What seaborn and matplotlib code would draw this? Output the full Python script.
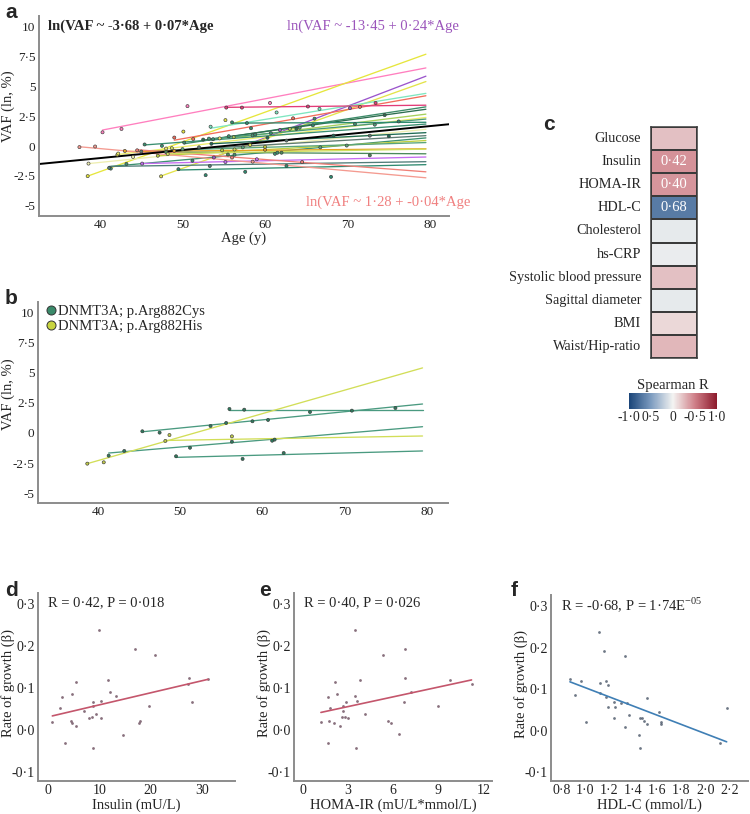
import numpy as np
import pandas as pd
import matplotlib
matplotlib.use("Agg")
import matplotlib.pyplot as plt
import seaborn as sns
from matplotlib.colors import LinearSegmentedColormap
from matplotlib.lines import Line2D

W, H = 750, 814
sns.set_theme(style="white")
plt.rcParams["font.family"] = ["Liberation Serif", "DejaVu Serif"]
plt.rcParams["mathtext.fontset"] = "custom"
plt.rcParams["mathtext.rm"] = "Liberation Serif"
plt.rcParams["axes.unicode_minus"] = False

# ---------------- DATA ----------------
END_AGE = 79.5
POP_INTERCEPT = -3.68
POP_SLOPE = 0.067

a_colors = ["#ff7fbf", "#e6e63c", "#9b55cc", "#e3e34a", "#7fe6c0", "#f26d5b", "#e23c78",
            "#3c8a68", "#2d6e4f", "#a6d05a", "#eeee6a", "#4b9a78", "#2e8b6e", "#3a8f70",
            "#eeeeb0", "#1f6b54", "#5f7a72", "#3d9070", "#bfd040", "#5aa47c", "#e8a020",
            "#4b8a5a", "#c46cf0", "#507d78", "#2f8a70", "#f08078", "#f49a90", "#d0e060"]
a_start_vaf = [1.35, -2.51, -0.95, -2.5, 1.5, 0.5, 3.25, 0.2, 0.5, 0.7, -0.7, 0.6, 1.93, 0.1,
               -1.46, 0.2, -0.5, -1.7, -0.8, -0.3, -0.45, -0.5, -1.46, -1.7, -2.0, -0.3, -0.05, -0.62]
a_end_vaf = [6.55, 7.7, 5.86, 5.41, 4.42, 4.22, 3.43, 3.29, 3.09, 2.68, 2.4, 2.27, 2.0, 1.85,
             1.41, 1.13, 0.88, 0.69, 0.47, 0.3, -0.22, -0.64, -0.91, -1.3, -1.55, -2.15, -2.65, -0.25]
a_ages = [[40.3, 42.6, 50.6, 60.6], [38.5, 42.1, 50.1, 55.2], [53.8, 61.8, 70.3], [47.4, 58.2],
          [53.4, 61.4, 66.6], [49.0, 51.3, 63.4, 71.5], [55.3, 57.2, 65.2, 73.4], [50.2, 58.3, 66.0],
          [52.5, 63.8, 74.5], [56.2, 63.0], [42.2, 48.0, 54.5], [53.2, 58.5, 64.2, 73.3],
          [56.0, 57.8, 65.8, 76.2], [45.4, 47.5, 53.7, 55.6, 58.8, 60.7, 70.9], [38.6, 44.0],
          [53.5, 60.3, 68.3, 75.0], [45.0, 52.0, 62.6, 72.7], [41.3, 43.2, 51.2, 56.3, 61.2, 61.5],
          [47.0, 54.8, 60.0], [50.0, 57.3, 66.7, 69.9], [43.0, 49.0, 60.0], [48.0, 55.5, 62.0, 72.7],
          [45.1, 55.2, 59.0], [41.1, 53.3], [49.5, 52.8, 57.6, 62.6, 68.0], [44.5, 56.0, 64.5],
          [37.5, 39.4, 58.5], [48.2, 48.7, 56.3]]
a_vafs = [[1.16, 1.44, 3.35, 3.62], [-2.51, -0.72, 1.22, 2.18], [-0.95, 1.35, 3.18], [-2.53, 0.1],
          [1.63, 2.82, 3.12], [0.72, 0.60, 2.33, 3.29], [3.23, 3.23, 3.32, 3.62], [0.30, 1.50, 2.30],
          [0.55, 1.45, 2.60], [0.75, 1.45], [-0.62, -0.20, 0.65], [0.63, 0.90, 1.55, 1.80],
          [1.99, 1.93, 1.74, 2.07], [0.14, 0.03, 0.58, 0.83, 0.97, 1.08, 1.85], [-1.46, -0.90],
          [0.20, 0.70, 0.88, 0.83], [-0.45, -0.10, 0.47, 0.88], [-1.88, -1.49, -1.22, -0.72, -0.64, -0.55],
          [-0.80, -0.35, -0.05], [-0.25, -0.10, -0.10, 0.05], [-0.40, -0.40, -0.30], [-0.50, -0.70, -0.55, -0.77],
          [-1.46, -1.33, -1.10], [-1.82, -1.66], [-1.93, -2.43, -2.15, -1.66, -2.57], [-0.35, -0.95, -1.33],
          [-0.08, -0.03, -1.30], [-0.66, -0.17, -0.28]]

b_mutation = ["DNMT3A; p.Arg882Cys"] * 4 + ["DNMT3A; p.Arg882His"] * 2
b_start_vaf = [1.93, 0.10, -1.66, -2.02, -2.54, -0.62]
b_end_vaf = [1.93, 2.40, 0.52, -1.49, 5.39, -0.25]
b_ages = [[56.0, 57.8, 65.8, 70.9], [45.4, 47.5, 53.7, 55.6, 58.8, 60.7, 76.2],
          [41.3, 43.2, 51.2, 56.3, 61.2, 61.5], [49.5, 57.6, 62.6], [38.7, 40.7], [48.2, 48.7, 56.3]]
b_vafs = [[1.99, 1.93, 1.74, 1.85], [0.14, 0.03, 0.58, 0.83, 0.97, 1.08, 2.07],
          [-1.88, -1.49, -1.22, -0.72, -0.64, -0.55], [-1.93, -2.15, -1.66], [-2.54, -2.43], [-0.66, -0.17, -0.28]]
b_line_colors = {"DNMT3A; p.Arg882Cys": "#4a9a80", "DNMT3A; p.Arg882His": "#d2de58"}
b_point_colors = {"DNMT3A; p.Arg882Cys": "#2e7a5e", "DNMT3A; p.Arg882His": "#c2cc48"}

c_labels = ["Glucose", "Insulin", "HOMA-IR", "HDL-C", "Cholesterol", "hs-CRP",
            "Systolic blood pressure", "Sagittal diameter", "BMI", "Waist/Hip-ratio"]
c_values = [0.22, 0.42, 0.40, -0.68, -0.06, -0.04, 0.22, -0.06, 0.12, 0.26]
c_text = ["", "0·42", "0·40", "0·68", "", "", "", "", "", ""]
c_cbar_ticks = [-1, -0.5, 0, 0.5, 1]
c_cbar_labels = ["-1·0", "0·5", "0", "-0·5", "1·0"]

d_insulin = [0.8, 2.3, 2.7, 3.3, 4.4, 4.6, 4.7, 5.4, 5.5, 6.9, 8.0, 8.6, 8.7, 8.7, 8.7, 9.3,
             10.0, 10.3, 10.4, 11.6, 12.0, 13.2, 14.7, 16.9, 17.8, 18.0, 19.7, 20.9, 27.3, 27.6, 28.0, 31.2]
d_beta = [0.020, 0.054, 0.079, -0.030, 0.023, 0.017, 0.087, 0.114, 0.009, 0.046, 0.030, 0.031, 0.068,
          0.057, -0.042, 0.039, 0.238, 0.069, 0.030, 0.119, 0.090, 0.082, -0.011, 0.193, 0.018, 0.021,
          0.058, 0.180, 0.111, 0.125, 0.067, 0.121]
e_homa = [1.19, 1.64, 1.64, 1.75, 1.77, 2.06, 2.10, 2.26, 2.43, 2.60, 2.65, 2.68, 2.77, 2.83, 2.96, 3.43,
          3.43, 3.54, 3.60, 3.80, 4.10, 5.33, 5.62, 5.84, 6.35, 6.70, 6.77, 6.80, 7.19, 9.00, 9.80, 11.20]
e_beta = [0.020, 0.079, -0.030, 0.023, 0.054, 0.017, 0.114, 0.087, 0.009, 0.031, 0.046, 0.057, 0.031,
          0.068, 0.030, 0.082, 0.238, -0.042, 0.069, 0.119, 0.039, 0.180, 0.021, 0.017, -0.010, 0.067,
          0.125, 0.193, 0.090, 0.058, 0.120, 0.111]
f_hdl = [0.872, 0.914, 0.961, 1.008, 1.110, 1.119, 1.119, 1.155, 1.174, 1.174, 1.188, 1.185, 1.235, 1.241,
         1.249, 1.296, 1.332, 1.332, 1.346, 1.366, 1.446, 1.452, 1.454, 1.471, 1.490, 1.513, 1.518, 1.618,
         1.629, 1.632, 2.122, 2.178]
f_beta = [0.125, 0.087, 0.120, 0.020, 0.238, 0.114, 0.090, 0.193, 0.082, 0.121, 0.111, 0.058, 0.069, 0.031,
          0.057, 0.068, 0.180, 0.009, 0.067, 0.039, -0.010, 0.031, -0.042, 0.030, 0.023, 0.079, 0.017, 0.046,
          0.020, 0.017, -0.030, 0.054]

vaf_ticks = [-5, -2.5, 0, 2.5, 5, 7.5, 10]
vaf_tick_labels = ["-5", "-2·5", "0", "2·5", "5", "7·5", "10"]
age_ticks = [40, 50, 60, 70, 80]
beta_ticks = [-0.1, 0.0, 0.1, 0.2, 0.3]
beta_tick_labels = ["-0·1", "0·0", "0·1", "0·2", "0·3"]
d_ticks = [0, 10, 20, 30]
e_ticks = [0, 3, 6, 9, 12]
f_ticks = [0.8, 1.0, 1.2, 1.4, 1.6, 1.8, 2.0, 2.2]
f_tick_labels = ["0·8", "1·0", "1·2", "1·4", "1·6", "1·8", "2·0", "2·2"]

# ---------------- HELPERS ----------------
fig = plt.figure(figsize=(W / 100, H / 100), dpi=100)


def px_axes(l, t, r, b):
    return fig.add_axes([l / W, 1 - b / H, (r - l) / W, (b - t) / H])


def style_axes(ax, ts=10):
    sns.despine(ax=ax)
    for s in ("left", "bottom"):
        ax.spines[s].set_color("#8c8c8c")
        ax.spines[s].set_linewidth(1.4)
    ax.tick_params(axis="both", length=1.5, color="#8c8c8c", labelsize=ts, pad=1, colors="#222222")


def panel_letter(x, y, s):
    fig.text(x / W, 1 - y / H, s, fontsize=15, fontweight="bold", family="Liberation Sans",
             ha="left", va="center")


def trajectories(ax, starts_v, ends_v, ages, vafs, line_cols, pt_cols):
    rows_l, rows_p = [], []
    for i, (sv, ev, ag, vf) in enumerate(zip(starts_v, ends_v, ages, vafs)):
        a0 = min(ag)
        slope = (ev - sv) / (END_AGE - a0)
        for a in (a0, END_AGE):
            rows_l.append((i, a, sv + slope * (a - a0)))
        for a, v in zip(ag, vf):
            rows_p.append((i, a, v))
    dl = pd.DataFrame(rows_l, columns=["subject", "age", "vaf"])
    dp = pd.DataFrame(rows_p, columns=["subject", "age", "vaf"])
    sns.lineplot(data=dl, x="age", y="vaf", hue="subject", palette=line_cols, estimator=None,
                 legend=False, lw=0.95, ax=ax)
    sns.scatterplot(data=dp, x="age", y="vaf", hue="subject", palette=pt_cols, s=5,
                    edgecolor="#3a3a3a", linewidth=0.45, legend=False, ax=ax, zorder=3)


# ---------------- PANEL A ----------------
axa = px_axes(39, 16, 449, 216)
pal_a = {i: c for i, c in enumerate(a_colors)}
trajectories(axa, a_start_vaf, a_end_vaf, a_ages, a_vafs, pal_a, pal_a)
xs = np.array([32.6, 82.3])
sns.lineplot(x=xs, y=POP_INTERCEPT + POP_SLOPE * xs, color="black", lw=1.4, ax=axa)
axa.set_xlim(32.6, 82.3)
axa.set_ylim(-5.85, 10.9)
axa.set_xticks(age_ticks)
axa.set_yticks(vaf_ticks)
axa.set_yticklabels(vaf_tick_labels)
style_axes(axa, ts=9.5)
axa.set_xlabel("Age (y)", fontsize=10.5, labelpad=0)
axa.set_ylabel("VAF (ln, %)", fontsize=10.5)
axa.yaxis.set_label_coords((15 - 39) / 410, 0.55)
axa.text(0.022, 0.95, "ln(VAF ~ -3·68 + 0·07*Age", transform=axa.transAxes, fontsize=10.5,
         fontweight="bold", ha="left", va="center")
axa.text(1.025, 0.95, "ln(VAF ~ -13·45 + 0·24*Age", transform=axa.transAxes, fontsize=10.5,
         color="#9b55bb", ha="right", va="center", clip_on=False)
axa.text(0.651, 0.07, "ln(VAF ~ 1·28 + -0·04*Age", transform=axa.transAxes, fontsize=10.5,
         color="#f08080", ha="left", va="center", clip_on=False)
panel_letter(5, 12, "a")

# ---------------- PANEL B ----------------
axb = px_axes(38, 302, 448, 503)
pal_bl = {i: b_line_colors[m] for i, m in enumerate(b_mutation)}
pal_bp = {i: b_point_colors[m] for i, m in enumerate(b_mutation)}
trajectories(axb, b_start_vaf, b_end_vaf, b_ages, b_vafs, pal_bl, pal_bp)
axb.set_xlim(32.7, 82.6)
axb.set_ylim(-5.8, 10.85)
axb.set_xticks(age_ticks)
axb.set_yticks(vaf_ticks)
axb.set_yticklabels(vaf_tick_labels)
style_axes(axb, ts=9.5)
axb.set_xlabel("")
axb.set_ylabel("VAF (ln, %)", fontsize=10.5)
axb.yaxis.set_label_coords((15 - 38) / 410, 0.54)
handles = [Line2D([], [], marker="o", ls="", markersize=6.5, markerfacecolor=c,
                  markeredgecolor="#333333", markeredgewidth=0.7, label=m)
           for m, c in [("DNMT3A; p.Arg882Cys", "#3a8a6a"), ("DNMT3A; p.Arg882His", "#c8d440")]]
axb.legend(handles=handles, loc="upper left", bbox_to_anchor=(0.0, 1.03), frameon=False,
           fontsize=10.5, handlelength=0.6, handletextpad=0.15, borderaxespad=0.2, labelspacing=0.15)
panel_letter(5, 298, "b")

# ---------------- PANEL C ----------------
axc = px_axes(651, 127, 697, 358)
cax = px_axes(629, 393, 717, 409)
cmap = LinearSegmentedColormap.from_list(
    "spear", [(0, "#1a4478"), (0.25, "#7d9cc0"), (0.5, "#f4f4f2"), (0.75, "#cf7f88"), (1, "#8c1a2c")])
hm = pd.DataFrame({"R": c_values}, index=c_labels)
annot = np.array(c_text).reshape(-1, 1)
sns.heatmap(hm, ax=axc, cmap=cmap, vmin=-1, vmax=1, annot=annot, fmt="",
            annot_kws={"color": "white", "fontsize": 10.5}, linewidths=1.1, linecolor="#3a3a3a",
            cbar_ax=cax, cbar_kws={"orientation": "horizontal"}, xticklabels=False,
            yticklabels=c_labels)
axc.tick_params(left=False, bottom=False, labelsize=10.3, pad=1)
axc.set_yticklabels(c_labels, rotation=0)
axc.set_ylabel("")
for s in axc.spines.values():
    s.set_visible(True)
    s.set_color("#3a3a3a")
    s.set_linewidth(1.1)
cbar = axc.collections[0].colorbar
cbar.set_ticks(c_cbar_ticks)
cbar.set_ticklabels(c_cbar_labels)
cbar.outline.set_visible(False)
cax.tick_params(length=0, labelsize=9.8, pad=1.5)
cax.set_title("Spearman R", fontsize=10.5, pad=3)
panel_letter(543, 124, "c")


# ---------------- PANELS D-F ----------------
def corr_panel(box, x, y, xlim, xticks, xticklabels, xlabel, text, pt_col, line_col, letter_pos, letter):
    ax = px_axes(*box)
    sns.regplot(x=x, y=y, ax=ax, ci=None, truncate=True,
                scatter_kws={"s": 4, "color": pt_col, "linewidths": 0},
                line_kws={"color": line_col, "lw": 1.2})
    ax.set_xlim(*xlim)
    ax.set_ylim(-0.121, 0.327)
    ax.set_xticks(xticks)
    ax.set_xticklabels(xticklabels)
    ax.set_yticks(beta_ticks)
    ax.set_yticklabels(beta_tick_labels)
    style_axes(ax, ts=10)
    ax.set_xlabel(xlabel, fontsize=10.5, labelpad=1)
    ax.set_ylabel("Rate of growth (β)", fontsize=10.5)
    l, t, r, b = box
    ax.yaxis.set_label_coords(-23 / (r - l), 0.52)
    ax.text(0.05, 0.95, text, transform=ax.transAxes, fontsize=10.5, ha="left", va="center")
    panel_letter(*letter_pos, letter)
    return ax


corr_panel((38, 593, 235, 781), d_insulin, d_beta, (-2.0, 36.5), d_ticks, [str(t) for t in d_ticks],
           "Insulin (mU/L)", "R = 0·42, P = 0·018", "#6a4c5c", "#c4566c", (5, 591), "d")
corr_panel((294, 593, 492, 781), e_homa, e_beta, (-0.6, 12.56), e_ticks, [str(t) for t in e_ticks],
           "HOMA-IR (mU/L*mmol/L)", "R = 0·40, P = 0·026", "#6a4c5c", "#c4566c", (259, 591), "e")
corr_panel((551, 595, 748, 781), f_hdl, f_beta, (0.714, 2.356), f_ticks, f_tick_labels,
           "HDL-C (mmol/L)", "R = -0·68, P = 1·74E$^{\\mathrm{-05}}$", "#4a5668", "#3f7fb5", (511, 591), "f")

fig.savefig("out.png", dpi=100)
